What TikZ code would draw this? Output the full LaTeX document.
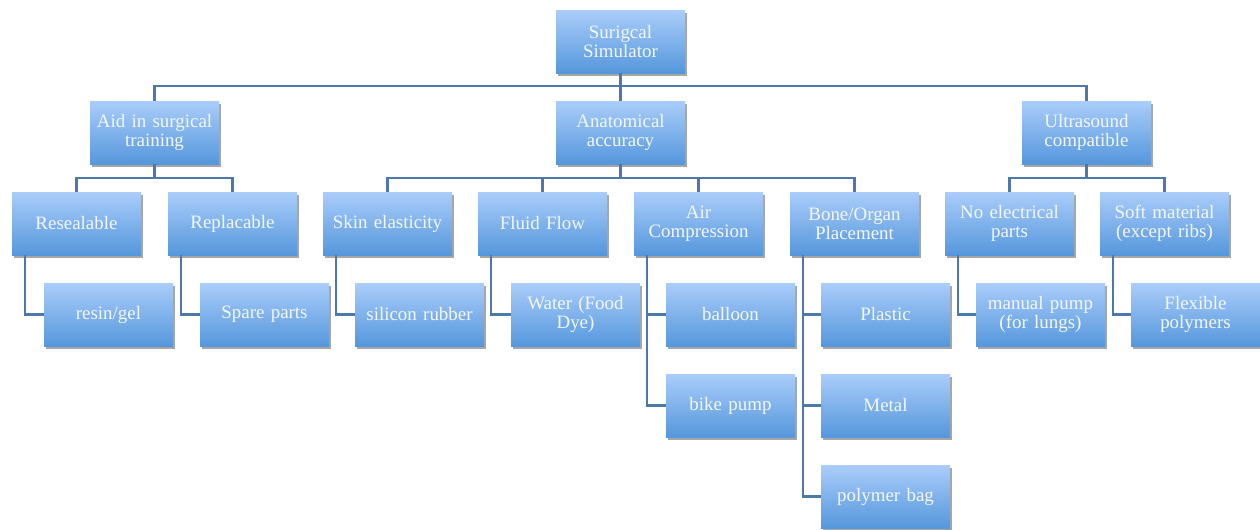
\documentclass[tikz,border=0pt]{standalone}
\usepackage{fontspec}
\setmainfont{Liberation Serif}
\usetikzlibrary{shadows,calc}
\definecolor{boxtop}{HTML}{AACDFA}
\definecolor{boxbot}{HTML}{5597DC}
\definecolor{linec}{HTML}{4C79AA}
\definecolor{txt}{HTML}{F4F7FF}
\tikzset{
  box/.style={rectangle, minimum width=96.75pt, minimum height=47.25pt, inner sep=0pt,
    text width=96pt, align=center, top color=boxtop, bottom color=boxbot,
    drop shadow={shadow xshift=1.8pt, shadow yshift=-2.6pt, opacity=0.35, fill=black},
    text=txt, font=\fontsize{14.2}{14.4}\selectfont},
  conn/.style={draw=linec, line width=1.8pt}
}
\begin{document}
\begin{tikzpicture}[x=0.75pt,y=-0.75pt]
\useasboundingbox (0,0) rectangle (1260,529);
% level 0 and 1
\node[box] (root) at (620.5,41.5) {Surigcal\\Simulator};
\node[box] (aid) at (154.5,132.5) {Aid in surgical\\training};
\node[box] (anat) at (620.5,132.5) {Anatomical\\accuracy};
\node[box] (ultra) at (1086.5,132.5) {Ultrasound\\compatible};
% level 2
\node[box] (reseal) at (76.5,223.5) {Resealable};
\node[box] (repl) at (232.5,223.5) {Replacable};
\node[box] (skin) at (387.5,223.5) {Skin elasticity};
\node[box] (fluid) at (542.5,223.5) {Fluid Flow};
\node[box] (air) at (698.5,223.5) {Air\\Compression};
\node[box] (bone) at (854.5,223.5) {Bone/Organ\\Placement};
\node[box] (noel) at (1009.5,223.5) {No electrical\\parts};
\node[box] (soft) at (1164.5,223.5) {Soft material\\(except ribs)};
% level 3
\node[box] (resin) at (108.5,314.5) {resin/gel};
\node[box] (spare) at (264.5,314.5) {Spare parts};
\node[box] (silicon) at (419.5,314.5) {silicon rubber};
\node[box] (water) at (575.5,314.5) {Water (Food\\Dye)};
\node[box] (balloon) at (730.5,314.5) {balloon};
\node[box] (bike) at (730.5,405.5) {bike pump};
\node[box] (plastic) at (885.5,314.5) {Plastic};
\node[box] (metal) at (885.5,405.5) {Metal};
\node[box] (polybag) at (885.5,496.5) {polymer bag};
\node[box] (manual) at (1040.5,314.5) {manual pump\\(for lungs)};
\node[box] (flex) at (1195.5,314.5) {Flexible\\polymers};
% connectors level 0-1
\draw[conn] (root.south) -- ++(0,13) -| (aid.north);
\draw[conn] (root.south) -- ++(0,13) -| (ultra.north);
\draw[conn] (root.south) -- (anat.north);
% level 1-2
\draw[conn] (aid.south) -- ++(0,14) -| (reseal.north);
\draw[conn] (aid.south) -- ++(0,14) -| (repl.north);
\draw[conn] (anat.south) -- ++(0,14) -| (skin.north);
\draw[conn] (anat.south) -- ++(0,14) -| (fluid.north);
\draw[conn] (anat.south) -- ++(0,14) -| (air.north);
\draw[conn] (anat.south) -- ++(0,14) -| (bone.north);
\draw[conn] (ultra.south) -- ++(0,14) -| (noel.north);
\draw[conn] (ultra.south) -- ++(0,14) -| (soft.north);
% level 2-3
\draw[conn] ($(reseal.south west)+(13,0)$) |- (resin.west);
\draw[conn] ($(repl.south west)+(13,0)$) |- (spare.west);
\draw[conn] ($(skin.south west)+(13,0)$) |- (silicon.west);
\draw[conn] ($(fluid.south west)+(13,0)$) |- (water.west);
\draw[conn] ($(air.south west)+(13,0)$) |- (balloon.west);
\draw[conn] ($(air.south west)+(13,0)$) |- (bike.west);
\draw[conn] ($(bone.south west)+(13,0)$) |- (plastic.west);
\draw[conn] ($(bone.south west)+(13,0)$) |- (metal.west);
\draw[conn] ($(bone.south west)+(13,0)$) |- (polybag.west);
\draw[conn] ($(noel.south west)+(13,0)$) |- (manual.west);
\draw[conn] ($(soft.south west)+(13,0)$) |- (flex.west);
\end{tikzpicture}
\end{document}
